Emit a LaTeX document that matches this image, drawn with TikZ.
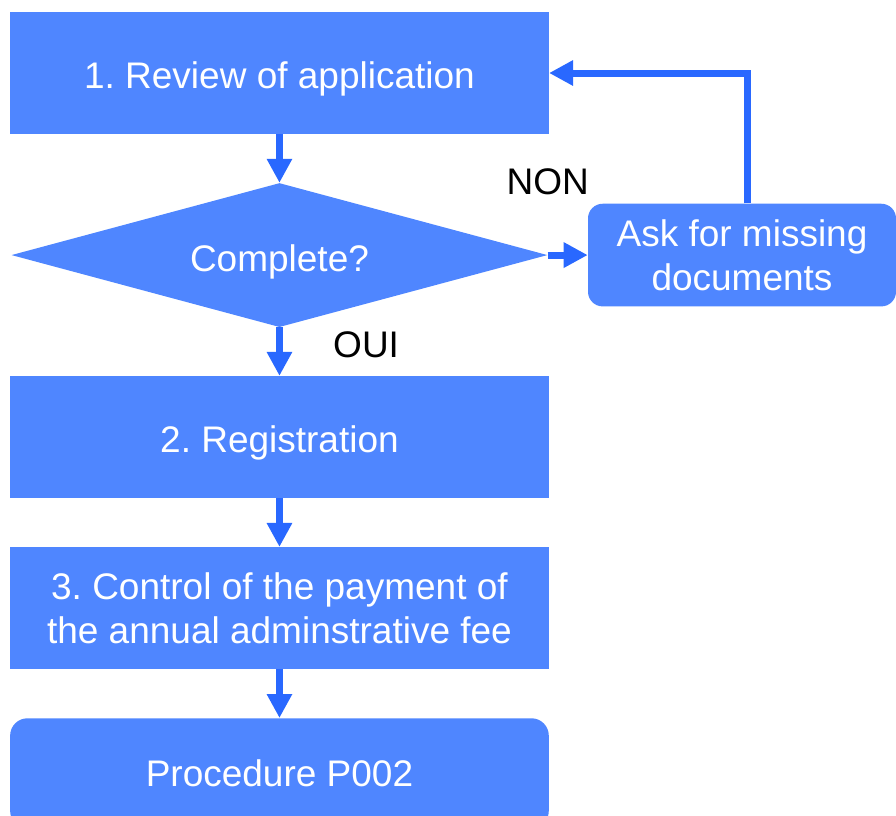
\documentclass[tikz,border=0pt]{standalone}
\usepackage{fontspec}
\setmainfont{Liberation Sans}
\usepackage{tikz}
\usetikzlibrary{arrows.meta,positioning,shapes.geometric}
\definecolor{boxblue}{RGB}{79,134,255}
\definecolor{arrowblue}{RGB}{41,104,255}
\frenchspacing

\begin{document}
\begin{tikzpicture}[>={Triangle[width=18pt,length=18pt]}, node distance=36.4pt,
  font=\fontsize{27.75}{33}\selectfont]
  \tikzstyle{box}=[fill=boxblue, text=white, align=center, inner sep=0pt, minimum width=404pt, minimum height=91.5pt]
  \tikzstyle{oneline}=[text height=23pt, text depth=0pt]
  \tikzstyle{decide}=[diamond, fill=boxblue, text=white, inner sep=0pt, aspect=3.7, minimum width=402pt, minimum height=108pt, text height=24.5pt, text depth=0pt]
  \tikzstyle{link}=[->, draw=arrowblue, line width=5.25pt]
  \tikzstyle{lbl}=[text=black, inner sep=0pt]
  \useasboundingbox (-209.6pt,54.75pt) rectangle (462.4pt,-556.5pt);
  \node[box, oneline] (app) at (0,0) {1. Review of application};
  \node[decide, below=of app] (dia) {Complete?};
  \node[box, rounded corners=11pt, minimum width=231pt, minimum height=77pt, right=30pt of dia] (ask) {Ask for missing\\documents};
  \node[box, oneline, below=of dia] (reg) {2. Registration};
  \node[box, below=of reg] (ctl) {3. Control of the payment of\\the annual adminstrative fee};
  \node[box, rounded corners=13pt, minimum height=82.5pt, below=of ctl] (proc) {Procedure P002};
  \node[lbl] (non) at ([yshift=55pt]dia.east) {NON};
  \node[lbl] (oui) at ([xshift=65pt,yshift=-13pt]dia.south) {OUI};
  \draw[link] (app) -- (dia);
  \draw[link] (dia) -- (reg);
  \draw[link] (reg) -- (ctl);
  \draw[link] (ctl) -- (proc);
  \draw[link] (dia.east) -- (ask.west);
  \draw[link] ([xshift=4pt]ask.north) |- (app.east);
\end{tikzpicture}
\end{document}
